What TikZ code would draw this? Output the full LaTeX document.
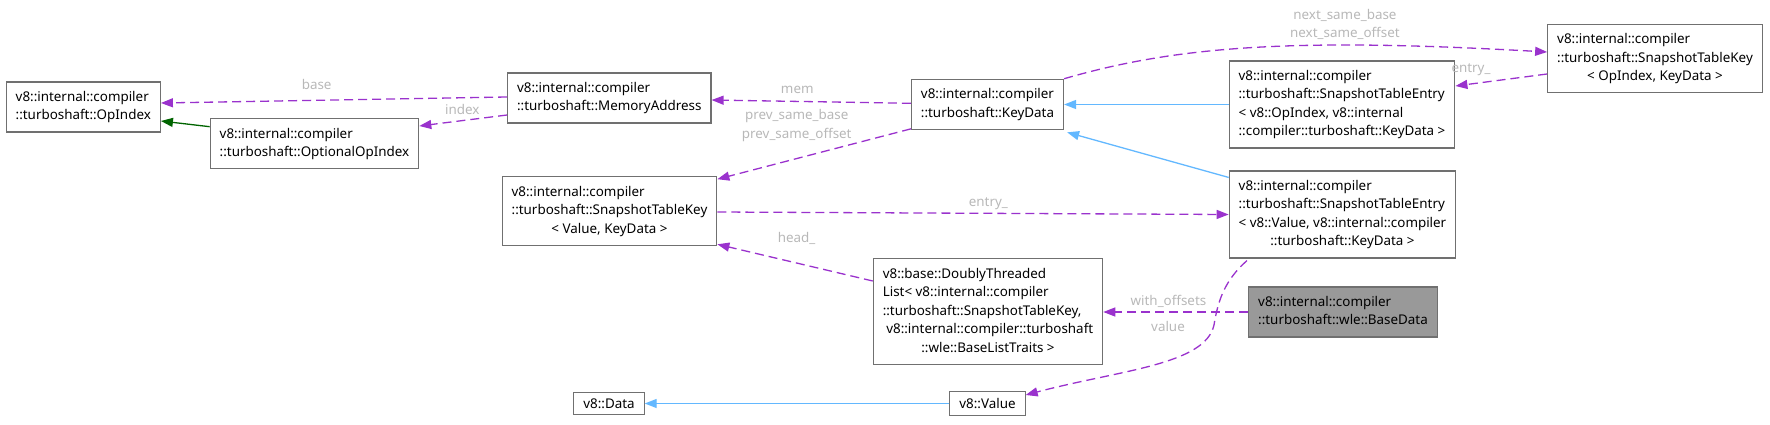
\documentclass[tikz,border=0pt]{standalone}
\usepackage{fontspec}
\setsansfont{Noto Sans}
\usetikzlibrary{arrows.meta}
\tikzset{every picture/.style={/utils/exec={\sffamily}}}
\definecolor{EdgePurple}{HTML}{9A32CD}
\definecolor{EdgeBlue}{HTML}{63B8FF}
\definecolor{EdgeGreen}{HTML}{006400}
\definecolor{BoxGray}{HTML}{707070}
\definecolor{BaseGray}{HTML}{999999}
\definecolor{LabelGray}{HTML}{B8B8B8}
\newcommand{\clsname}[1]{\begin{tabular}{@{}l@{}}#1\end{tabular}}
\newcommand{\lastline}[1]{\multicolumn{1}{@{}c@{}}{#1}}

\begin{document}
\begin{tikzpicture}[x=1pt,y=-1pt,
			every node/.style={font=\fontsize{13.4}{18.5}\selectfont},
			cls/.style={draw=BoxGray,rectangle,line width=1.1pt,fill=white,inner xsep=9.5pt,inner ysep=6.5pt},
			lbl/.style={text=LabelGray,inner sep=0pt},
			member/.style={draw=EdgePurple,line width=1.3pt,dash pattern=on 9pt off 5pt,-{Triangle[length=12pt,width=9pt]}},
			inhgreen/.style={draw=EdgeGreen,line width=1.3pt,-{Triangle[length=12pt,width=9pt]}},
			inhblue/.style={draw=EdgeBlue,line width=1.3pt,-{Triangle[length=12pt,width=9pt]}}
		]
			\useasboundingbox (0,0) rectangle (1770,425);

			% classes
			\node (opidx) [cls] at (83.3,107) {\clsname{v8::internal::compiler\\::turboshaft::OpIndex}};
			\node (optidx) [cls] at (314.5,143.7) {\clsname{v8::internal::compiler\\::turboshaft::OptionalOpIndex}};
			\node (memaddr) [cls] at (609.3,98) {\clsname{v8::internal::compiler\\::turboshaft::MemoryAddress}};
			\node (keydata) [cls] at (987.5,104.3) {\clsname{v8::internal::compiler\\::turboshaft::KeyData}};
			\node (keyval) [cls] at (609.5,211) {\clsname{v8::internal::compiler\\::turboshaft::SnapshotTableKey\\\lastline{< Value, KeyData >}}};
			\node (entryop) [cls] at (1342,104.5) {\clsname{v8::internal::compiler\\::turboshaft::SnapshotTableEntry\\< v8::OpIndex, v8::internal\\\lastline{::compiler::turboshaft::KeyData >}}};
			\node (keyop) [cls] at (1655,58.7) {\clsname{v8::internal::compiler\\::turboshaft::SnapshotTableKey\\\lastline{< OpIndex, KeyData >}}};
			\node (entryval) [cls] at (1342.5,214.5) {\clsname{v8::internal::compiler\\::turboshaft::SnapshotTableEntry\\< v8::Value, v8::internal::compiler\\\lastline{::turboshaft::KeyData >}}};
			\node (dtl) [cls] at (988,311.5) {\clsname{v8::base::DoublyThreaded\\List< v8::internal::compiler\\::turboshaft::SnapshotTableKey,\\\ v8::internal::compiler::turboshaft\\\lastline{::wle::BaseListTraits >}}};
			\node (basedata) [cls,fill=BaseGray] at (1343,312) {\clsname{v8::internal::compiler\\::turboshaft::wle::BaseData}};
			\node (data) [cls] at (609,403.5) {v8::Data};
			\node (value) [cls] at (987.5,403.5) {v8::Value};
			\coordinate (bend) at (1214,325);

			% inheritance
			\draw[inhgreen] ([yshift=17pt]optidx.west) -- ([yshift=-14pt]opidx.east);
			\draw[inhblue] (entryop.west) -- (entryop.west -| keydata.east);
			\draw[inhblue] ([yshift=-7pt]entryval.north west) -- ([xshift=3pt,yshift=-2.5pt]keydata.south east);
			\draw[inhblue] (value.west) -- (data.east);

			% members
			\draw[member] ([yshift=1pt]memaddr.west) -- node[lbl,pos=.55,yshift=15.5pt] {base} ([yshift=4pt]opidx.east);
			\draw[member] ([yshift=-17pt]memaddr.west) -- node[lbl,pos=.51,yshift=11.6pt] {index} ([yshift=17.7pt]optidx.east);
			\draw[member] ([yshift=1pt]keydata.west) -- node[lbl,pos=.57,yshift=11.4pt] {mem} ([yshift=-2pt]memaddr.east);
			\draw[member] ([yshift=1pt]keydata.south west) -- node[lbl,pos=.59,yshift=33pt,align=center] {prev\_same\_base\\prev\_same\_offset} ([yshift=-3pt]keyval.north east);
			\draw[member] (keydata.north east) .. controls (1180,45) and (1300,38) .. node[lbl,pos=.68,yshift=21pt,align=center] {next\_same\_base\\next\_same\_offset} ([yshift=6.7pt]keyop.west);
			\draw[member] ([yshift=-15.3pt]keyop.west) -- node[lbl,pos=.83,yshift=14pt] {entry\_} ([yshift=18.5pt]entryop.east);
			\draw[member] ([yshift=-1pt]keyval.east) -- node[lbl,pos=.53,yshift=10pt] {entry\_} (entryval.west);
			\draw[member] ([yshift=30.5pt]dtl.west) -- node[lbl,pos=.49,yshift=24.6pt] {head\_} ([yshift=1.5pt]keyval.south east);
			\draw[member] (basedata.west) -- node[lbl,pos=.55,yshift=11pt] {with\_offsets} (basedata.west -| dtl.east);
			\draw[member] ([xshift=-95.5pt,yshift=-2pt]entryval.south) .. controls (1225,280) and (1218,300) .. (bend) node[lbl,xshift=-46pt,yshift=-1.7pt] {value} .. controls (1205,365) and (1120,370) .. ([yshift=8.5pt]value.east);
		\end{tikzpicture}
\end{document}
